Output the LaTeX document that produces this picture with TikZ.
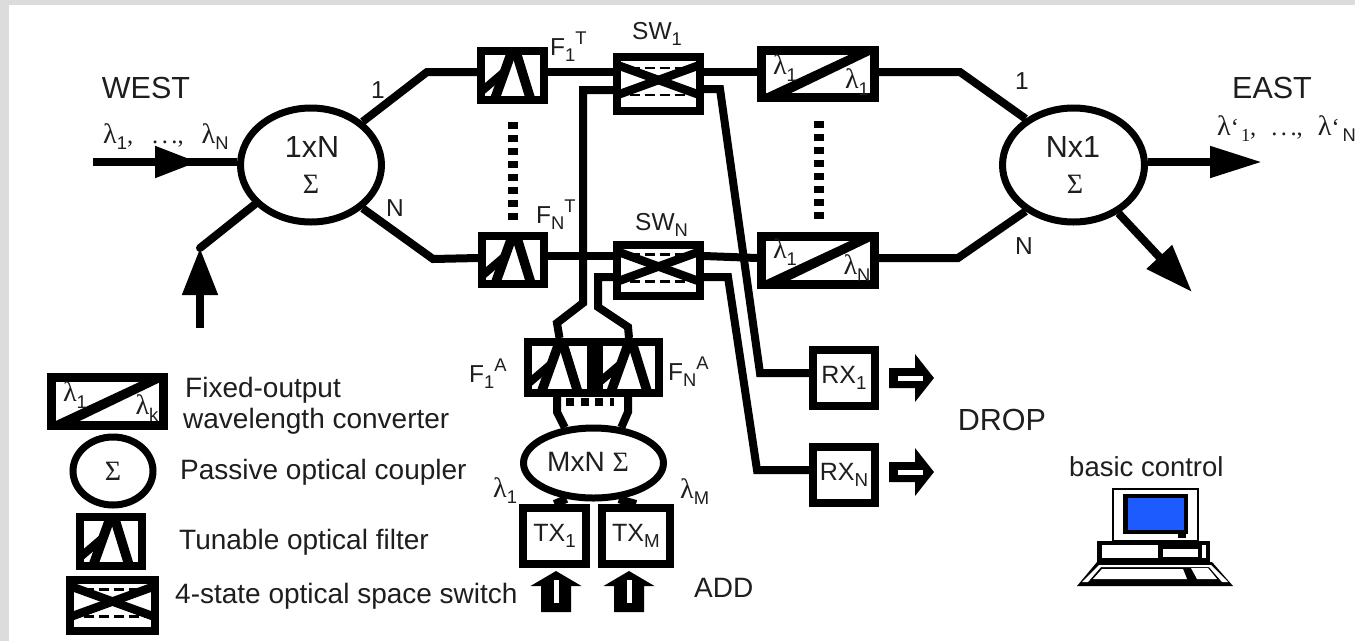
\documentclass[tikz,border=0pt]{standalone}
\usepackage{fontspec}
\usepackage{graphicx}
\setmainfont{Liberation Sans}
\newfontfamily\gk{Liberation Serif}
\usetikzlibrary{arrows.meta,shapes.geometric}
\definecolor{ink}{HTML}{1E1E1E}
\definecolor{framegray}{HTML}{DCDCDC}
\definecolor{screenblue}{HTML}{1E5BFF}
\newcommand\lo[1]{\raisebox{-.27em}{\scalebox{.75}{#1}}}
\newcommand\hi[1]{\raisebox{.42em}{\scalebox{.75}{#1}}}
\newcommand\lam{\scalebox{1.15}{\gk λ}}
\newcommand\sig{{\gk Σ}}
\newcommand\ddd{{\gk .\hspace{3.5pt}.\hspace{3.5pt}.}}
\newcommand\filterglyph{%
  \begin{scope}[shift={(path picture bounding box.center)}]
    \draw[line width=9.5pt] (-20,30)--(1.5,-30);
    \draw[line width=9.5pt] (1.5,-30)--(20,30);
    \draw[line width=8pt] (-30,15)--(-9,-3);
  \end{scope}}
\newcommand\switchglyph{%
  \begin{scope}[shift={(path picture bounding box.center)}]
    \draw[line width=8.5pt] (-44,-20)--(44,12);
    \draw[line width=8.5pt] (-44,12)--(44,-20);
    \draw[line width=2.5pt,dash pattern=on 10pt off 5pt] (-29,-16)--(33,-16);
    \draw[line width=2.5pt,dash pattern=on 10pt off 5pt] (-29,11)--(33,11);
  \end{scope}}
\newcommand\convglyph{%
  \begin{scope}[shift={(path picture bounding box.center)}]
    \fill[black] (-55,21)--(35,-21)--(56,-21)--(-31,21)--cycle;
  \end{scope}}
\tikzset{
  x=1pt,y=-1pt,
  conn/.style={line width=8pt,draw=black},
  heavybox/.style={draw=black,line width=8pt,fill=white,inner sep=0pt,text=ink,font=\fontsize{25}{28}\selectfont},
  filterbox/.style={heavybox,path picture={\filterglyph}},
  switchbox/.style={heavybox,path picture={\switchglyph}},
  convbox/.style={heavybox,line width=9pt,path picture={\convglyph}},
  coupler/.style={ellipse,draw=black,line width=7pt,fill=white,inner sep=0pt},
  lbl/.style={inner sep=0pt,text=ink,font=\fontsize{24.5}{28}\selectfont},
  leglbl/.style={inner sep=0pt,text=ink,font=\fontsize{28}{32}\selectfont,anchor=base west},
  biglbl/.style={inner sep=0pt,text=ink,font=\fontsize{30.5}{34}\selectfont},
  midlbl/.style={inner sep=0pt,text=ink,font=\fontsize{28}{32}\selectfont},
  hollow/.pic={
    \fill[black] (0,-10)--(26,-10)--(26,-24)--(45,0)--(26,24)--(26,10)--(0,10)--cycle;
    \fill[white] (9,-2.5)--(34,-2.5)--(34,2.5)--(9,2.5)--cycle;},
  hollowup/.pic={
    \fill[black] (-15,0)--(-15,-26)--(-25.5,-26)--(0,-41)--(25.5,-26)--(15,-26)--(15,0)--cycle;
    \fill[white] (-2.5,-9)--(-2.5,-32)--(2.5,-32)--(2.5,-9)--cycle;},
  dotsv/.style={line width=10pt,dash pattern=on 7pt off 6pt},
}
\begin{document}
\begin{tikzpicture}
\useasboundingbox (0,0) rectangle (1355,641);
\fill[framegray] (0,0) rectangle (1355,641);
\fill[white] (9,5) rectangle (1355,641);

% couplers
\node[coupler,minimum width=141pt,minimum height=114pt] (wc) at (311,165) {};
\node[coupler,minimum width=142pt,minimum height=114pt] (ec) at (1073.5,165) {};
\node[coupler,minimum width=140pt,minimum height=70pt] (mx) at (593.5,463) {};

% boxes
\node[filterbox,minimum width=63pt,minimum height=49pt] (f1t) at (512.5,75.5) {};
\node[filterbox,minimum width=62pt,minimum height=48pt] (fnt) at (513,260) {};
\node[switchbox,minimum width=83pt,minimum height=54pt] (sw1) at (658.5,84) {};
\node[switchbox,minimum width=83pt,minimum height=51pt] (swn) at (658.5,270.5) {};
\node[convbox,minimum width=113pt,minimum height=47pt] (c1) at (818,74) {};
\node[convbox,minimum width=113pt,minimum height=48pt] (cn) at (818,260.5) {};
\node[filterbox,minimum width=63pt,minimum height=51pt] (fa1) at (559.5,367.5) {};
\node[filterbox,minimum width=60pt,minimum height=51pt] (fna) at (629,367.5) {};
\node[heavybox,minimum width=63pt,minimum height=56pt] (tx1) at (554.5,536) {TX\lo{1}};
\node[heavybox,minimum width=68pt,minimum height=56pt] (txm) at (636,536) {TX\lo{M}};
\node[heavybox,minimum width=62pt,minimum height=56pt] (rx1) at (844,378) {RX\lo{1}};
\node[heavybox,minimum width=62pt,minimum height=56pt] (rxn) at (844,475) {RX\lo{N}};

% main west part
\coordinate (wstart) at (93,162);
\coordinate (wmid) at (198,162);
\draw[conn] (wstart) -- ([yshift=3pt]wc.west);
\draw[conn,-{Triangle[length=43pt,width=30pt]}] (wstart) -- (wmid);
\coordinate (sstart) at (200,328);
\coordinate (stip) at (200,248);
\draw[conn,line cap=round] (stip) -- (wc.215);
\draw[conn,-{Triangle[length=47pt,width=34pt]}] (sstart) -- (stip);
\draw[conn] (wc.40) -- (427,72) -- ([yshift=3.5pt]f1t.west);
\draw[conn] (wc.320) -- (433,259) -- ([yshift=2pt]fnt.west);
\draw[conn] ([yshift=3.5pt]f1t.east) -- ([yshift=12pt]sw1.west);
\draw[conn] ([yshift=4pt]fnt.east) -- ([yshift=14.5pt]swn.west);
\draw[conn] ([yshift=12pt]sw1.east) -- ([yshift=2pt]c1.west);
\draw[conn] ([yshift=14.5pt]swn.east) -- ([yshift=2.5pt]cn.west);
\draw[conn] ([yshift=2pt]c1.east) -- (960,72) -- (ec.136);
\draw[conn] ([yshift=2.5pt]cn.east) -- (958,258) -- (ec.224);
\draw[conn,-{Triangle[length=52pt,width=30pt]}] ([yshift=3pt]ec.east) -- (1262,162);
\coordinate (etip) at (1192,292);
\draw[conn,-{Triangle[length=48pt,width=33pt]}] (ec.313) -- (etip);

% add branch
\draw[conn] ([yshift=-6pt]sw1.west) -- (583,90) -- (583,303) -- (557,323) -- (fa1.north);
\draw[conn] ([yshift=-6.5pt]swn.west) -- (598,277) -- (598,307) -- (628,327) -- (fna.north);
\draw[conn] ([xshift=-2.5pt]fa1.south) -- (557,412) -- (mx.129);
\draw[conn] ([xshift=-1pt]fna.south) -- (628,412) -- (mx.52);
\draw[conn] (mx.233) -- (tx1.north);
\draw[conn] (mx.305) -- (txm.north);

% drop branch
\draw[conn] ([yshift=-5pt]sw1.east) -- (720,89) -- (760,373) -- ([yshift=5pt]rx1.west);
\draw[conn] ([yshift=-6.5pt]swn.east) -- (728,277) -- (757,470) -- ([yshift=5pt]rxn.west);

% dotted continuations
\coordinate (d1a) at (513,122); \coordinate (d1b) at (513,220);
\coordinate (d2a) at (819,121); \coordinate (d2b) at (819,219);
\coordinate (d3a) at (566,402); \coordinate (d3b) at (614,402);
\draw[dotsv] (d1a) -- (d1b);
\draw[dotsv] (d2a) -- (d2b);
\draw[line width=8pt,dash pattern=on 8pt off 6.6pt] (d3a) -- (d3b);

% hollow arrows
\pic at (889,378) {hollow};
\pic at (889,472) {hollow};
\pic at (556,612) {hollowup};
\pic at (629,612) {hollowup};

% main labels
\node[biglbl] (twest) at (146,88) {WEST};
\node[biglbl] (teast) at (1272,88) {EAST};
\node[biglbl] (tdrop) at (1002,420) {DROP};
\node[midlbl,anchor=base west] (tadd) at (694,597) {ADD};
\node[lbl,anchor=base west] (tlw) at (103,143) {\lam\lo{1}{\gk,}\hspace{19pt}\ddd{\gk,}\hspace{18pt}\lam\lo{N}};
\node[lbl,anchor=base west] (tle) at (1217,135) {\lam{\gk‘}\hspace{2pt}\lo{\gk 1}{\gk,}\hspace{15pt}\ddd{\gk,}\hspace{15pt}\lam{\gk‘}\hspace{3pt}\lo{N}};
\node[biglbl] (t1xn) at (312,147) {1xN};
\node[midlbl] (twsig) at (311,184) {\sig};
\node[biglbl] (tnx1) at (1073,147) {Nx1};
\node[midlbl] (tesig) at (1075,184) {\sig};
\node[lbl] (tw1) at (378,90) {1};
\node[lbl] (twn) at (395,208) {N};
\node[lbl] (te1) at (1022,81) {1};
\node[lbl] (ten) at (1024,246) {N};
\node[midlbl] (tmx) at (588,462) {MxN \sig};

\node[lbl,anchor=base west] (tf1t) at (550,55) {F\lo{1}\hi{T}};
\node[lbl,anchor=base west] (tsw1) at (632,39) {SW\lo{1}};
\node[lbl,anchor=base west] (tfnt) at (536,223) {F\lo{N}\hi{T}};
\node[lbl,anchor=base west] (tswn) at (635,230) {SW\lo{N}};
\node[lbl,anchor=base west] (tf1a) at (469,382) {F\lo{1}\hi{A}};
\node[lbl,anchor=base west] (tfna) at (668,380) {F\lo{N}\hi{A}};
\node[lbl,anchor=base west] (tl1) at (493,497) {\lam\lo{1}};
\node[lbl,anchor=base west] (tlm) at (680,498) {\lam\lo{M}};

% converter labels
\node[lbl] (cl1) at (785,68) {\lam\lo{1}};
\node[lbl] (cr1) at (857,82) {\lam\lo{1}};
\node[lbl] (cl2) at (785,252) {\lam\lo{1}};
\node[lbl] (cr2) at (857,268) {\lam\lo{N}};

% legend
\node[convbox,minimum width=112pt,minimum height=48pt] (lc) at (107.5,401.5) {};
\node[lbl] (lcl) at (75,395) {\lam\lo{1}};
\node[lbl] (lcr) at (147,408) {\lam\lo{k}};
\node[coupler,minimum width=80pt,minimum height=68pt] (lo) at (113,471) {\fontsize{28}{30}\selectfont\color{ink}\sig};
\node[filterbox,minimum width=62pt,minimum height=49pt] (lf) at (111,541.5) {};
\node[switchbox,minimum width=85pt,minimum height=51pt] (ls) at (112.5,605.5) {};
\node[leglbl] (lt1) at (185,397) {Fixed-output};
\node[leglbl] (lt1b) at (183,428) {wavelength converter};
\node[leglbl] (lt2) at (180,479) {Passive optical coupler};
\node[leglbl] (lt3) at (179,549) {Tunable optical filter};
\node[leglbl] (lt4) at (175,603) {4-state optical space switch};

% computer
\node[inner sep=0pt,text=ink,font=\fontsize{27.5}{30}\selectfont,anchor=base west] (tbc) at (1069,476) {basic control};
\draw[black,line width=2.5pt,fill=white] (1113,489) rectangle (1198,541);
\fill[black] (1123,494) rectangle (1188,534);
\fill[black] (1178,534) rectangle (1186,538);
\fill[screenblue] (1128,498) rectangle (1184,530);
\fill[black] (1097,541) rectangle (1210,563);
\fill[white] (1102,545) rectangle (1158,558);
\fill[white] (1163,549) rectangle (1198,557);
\fill[white] (1202,545) rectangle (1206,558);
\fill[black] (1097,562) -- (1212,562) -- (1233,586) -- (1077,586) -- cycle;
\fill[white] (1099,565) -- (1211,565) -- (1228,582) -- (1222,582) -- (1209,567) -- (1101,567) -- (1088,582) -- (1082,582) -- cycle;
\fill[white] (1102,569) -- (1183,569) -- (1187,579) -- (1093,579) -- cycle;
\fill[white] (1191,568) -- (1208,568) -- (1217,579) -- (1197,579) -- cycle;
\end{tikzpicture}
\end{document}
